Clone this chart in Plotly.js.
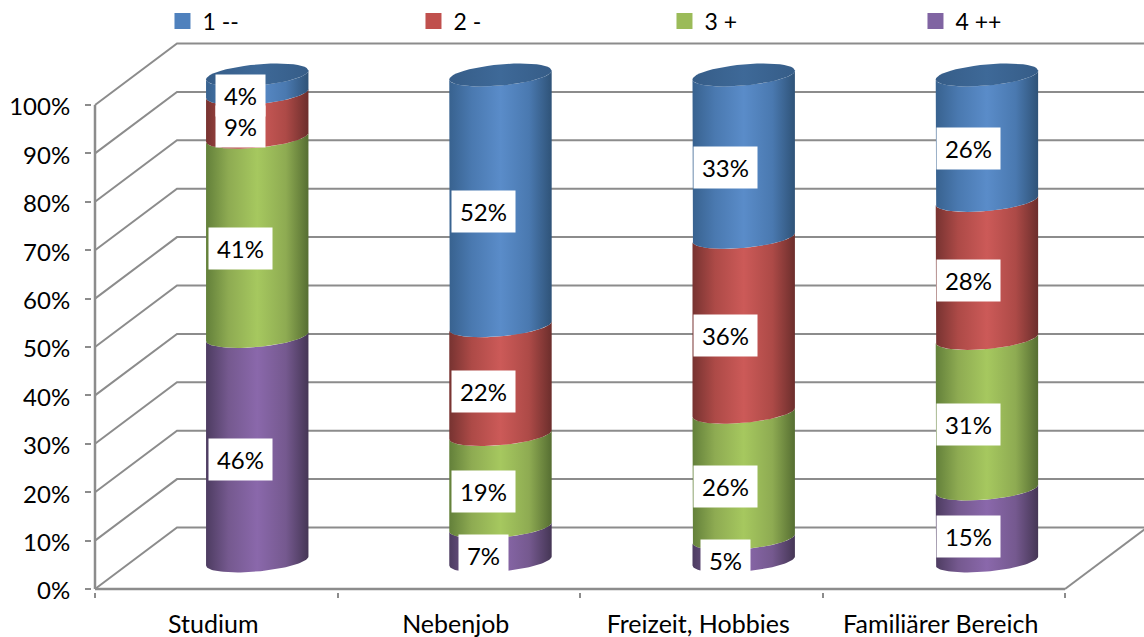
<!DOCTYPE html>
<html><head><meta charset="utf-8">
<script src="https://cdn.plot.ly/plotly-3.0.1.min.js"></script>
<style>html,body{margin:0;padding:0;background:#fff}</style></head>
<body><div id="chart" style="width:1144px;height:637px"></div>
<script>
// ---- data ----
const categories = ["Studium", "Nebenjob", "Freizeit, Hobbies", "Familiärer Bereich"];
const seriesNames = ["4 ++", "3 +", "2 -", "1 --"];            // stacked bottom to top
const values4 = [46.2, 7, 4.6, 14.8];
const values3 = [41, 19, 26, 31];
const values2 = [9, 22.4, 36, 28.4];
const values1 = [3.8, 51.6, 33.4, 25.8];
const tickValues = [0, 10, 20, 30, 40, 50, 60, 70, 80, 90, 100];
const tickLabels = ["0%", "10%", "20%", "30%", "40%", "50%", "60%", "70%", "80%", "90%", "100%"];

// ---- style ----
const stackValues = [values4, values3, values2, values1];
const shades = [
  ["#4d3c61", "#75598f", "#8a68ab", "#75598f", "#453655"],
  ["#63803a", "#8eab52", "#a6c85f", "#8eab52", "#566e32"],
  ["#773331", "#ad4a47", "#cc5a58", "#ad4a47", "#6c2e2c"],
  ["#38628f", "#4a79b0", "#5a8cc9", "#4a79b0", "#2f5378"]
];
const flat = ["#8064a2", "#9bbb59", "#c0504d", "#4f81bd"];
const capScale = [[0, "#365d88"], [0.5, "#3e6998"], [1, "#365d88"]];
const gray = "#8c8c8c";
const font = "Lato, Carlito, sans-serif";

// ---- projection helpers (pixels -> axis units) ----
const pxX = 242.5, pxY = 4.84;
const plotL = 92, plotB = 592, plotT = 30, plotR = 1144;   // plot area in pixels
const frontL = 95, frontB = 589;                           // front plane corner
const xMin = -0.5 - (frontL - plotL) / pxX, xMax = -0.5 + (plotR - frontL) / pxX;
const yMin = -(plotB - frontB) / pxY, yMax = (frontB - plotT) / pxY;
const depthX = 82 / pxX, depthY = 61.5 / pxY;
const cylOffset = 41 / pxX, cylSpacing = 1.003;
const rx = 51.2 / pxX;
const tiltPx = 4.5, arcPx = 10.6;
const base = 5.8, scale = 1.004;
const yAt = v => base + v * scale;
const N = 48;

function arc(cx, v, from, to) {            // elliptical edge at stack height v
  const xs = [], ys = [];
  for (let i = 0; i <= N; i++) {
    const t = from + (to - from) * i / N;
    xs.push(cx + rx * Math.cos(t));
    ys.push(yAt(v) - (-tiltPx * Math.cos(t) + arcPx * Math.sin(t)) / pxY);
  }
  return [xs, ys];
}

const traces = [];
const lineTrace = (x, y, c, w) => ({
  x: x, y: y, mode: "lines", line: {color: c, width: w}, hoverinfo: "skip", showlegend: false
});
// wall + floor lines
tickValues.forEach(v => {
  traces.push(lineTrace([-0.5, -0.5 + depthX, xMax + depthX], [v, v + depthY, v + depthY], gray, 2));
});
traces.push(lineTrace([3.5, 3.5 + depthX], [0, depthY], gray, 2));
// front axis lines
traces.push(lineTrace([-0.5, -0.5], [0, 100], gray, 2.5));
traces.push(lineTrace([-0.5, 3.5], [0, 0], gray, 2.5));

// cylinders
categories.forEach((c, i) => {
  const cx = i * cylSpacing + cylOffset;
  let acc = 0;
  stackValues.forEach((vals, s) => {
    const low = acc, high = acc + vals[i];
    acc = high;
    const a = arc(cx, high, 0, Math.PI);      // upper edge, right to left
    const b = arc(cx, low, Math.PI, 0);       // lower edge, left to right
    const st = shades[s];
    traces.push({
      x: a[0].concat(b[0]), y: a[1].concat(b[1]),
      mode: "lines", fill: "toself", line: {width: 0, color: st[2]},
      fillgradient: {type: "horizontal", colorscale: [[0, st[0]], [0.22, st[1]], [0.5, st[2]], [0.78, st[3]], [1, st[4]]]},
      hoverinfo: "skip", showlegend: false
    });
  });
  const cap = arc(cx, acc, 0, 2 * Math.PI);
  traces.push({
    x: cap[0], y: cap[1], mode: "lines", fill: "toself", line: {width: 0, color: "#3e6998"},
    fillgradient: {type: "horizontal", colorscale: capScale},
    hoverinfo: "skip", showlegend: false
  });
});

// legend entries
[3, 2, 1, 0].forEach(s => {
  traces.push({
    x: [null], y: [null], name: seriesNames[s], mode: "markers",
    marker: {symbol: "square", size: 16, color: flat[s]}, hoverinfo: "skip"
  });
});

// data labels
const annotations = [];
const labelShiftX = -16.5 / pxX, labelShiftY = -11.2 / pxY;
categories.forEach((c, i) => {
  let acc = 0;
  stackValues.forEach(vals => {
    const v = vals[i];
    const shown = Math.round(v);
    annotations.push({
      x: i + cylOffset + labelShiftX, y: yAt(acc + v / 2) + labelShiftY,
      xref: "x", yref: "y", text: shown + "%", showarrow: false,
      bgcolor: "#fff", width: shown < 10 ? 49 : 63, height: 41, borderpad: 0,
      font: {family: font, size: 24, color: "#000"}
    });
    acc += v;
  });
});

const layout = {
  width: 1144, height: 637,
  margin: {l: plotL, r: 1144 - plotR, t: plotT, b: 637 - plotB, pad: 0, autoexpand: false},
  paper_bgcolor: "#fff", plot_bgcolor: "rgba(0,0,0,0)",
  font: {family: font, size: 24, color: "#000"},
  xaxis: {
    range: [xMin, xMax], tickmode: "array", tickvals: [0, 1, 2, 3], ticktext: categories,
    ticks: "", showgrid: false, zeroline: false, showline: false,
    ticklabelstandoff: 15, ticklabelshift: -3, tickfont: {family: font, size: 25},
    minor: {tickmode: "array", tickvals: [-0.5, 0.5, 1.5, 2.5, 3.5], ticks: "outside", ticklen: 5, tickwidth: 2, tickcolor: gray, showgrid: false}
  },
  yaxis: {
    range: [yMin, yMax], tickmode: "array", tickvals: tickValues, ticktext: tickLabels,
    ticks: "outside", ticklen: 6, tickwidth: 2, tickcolor: gray, ticklabelstandoff: 10, ticklabelshift: 2,
    showgrid: false, zeroline: false, showline: false,
    tickfont: {family: font, size: 24}
  },
  showlegend: true,
  legend: {
    orientation: "h", x: 0.067, xanchor: "left", y: 1.054, yanchor: "top",
    entrywidth: 206, entrywidthmode: "pixels", traceorder: "normal",
    font: {family: font, size: 23}, bgcolor: "rgba(0,0,0,0)"
  },
  annotations: annotations
};
Plotly.newPlot("chart", traces, layout, {displayModeBar: false, staticPlot: true});
</script></body></html>
